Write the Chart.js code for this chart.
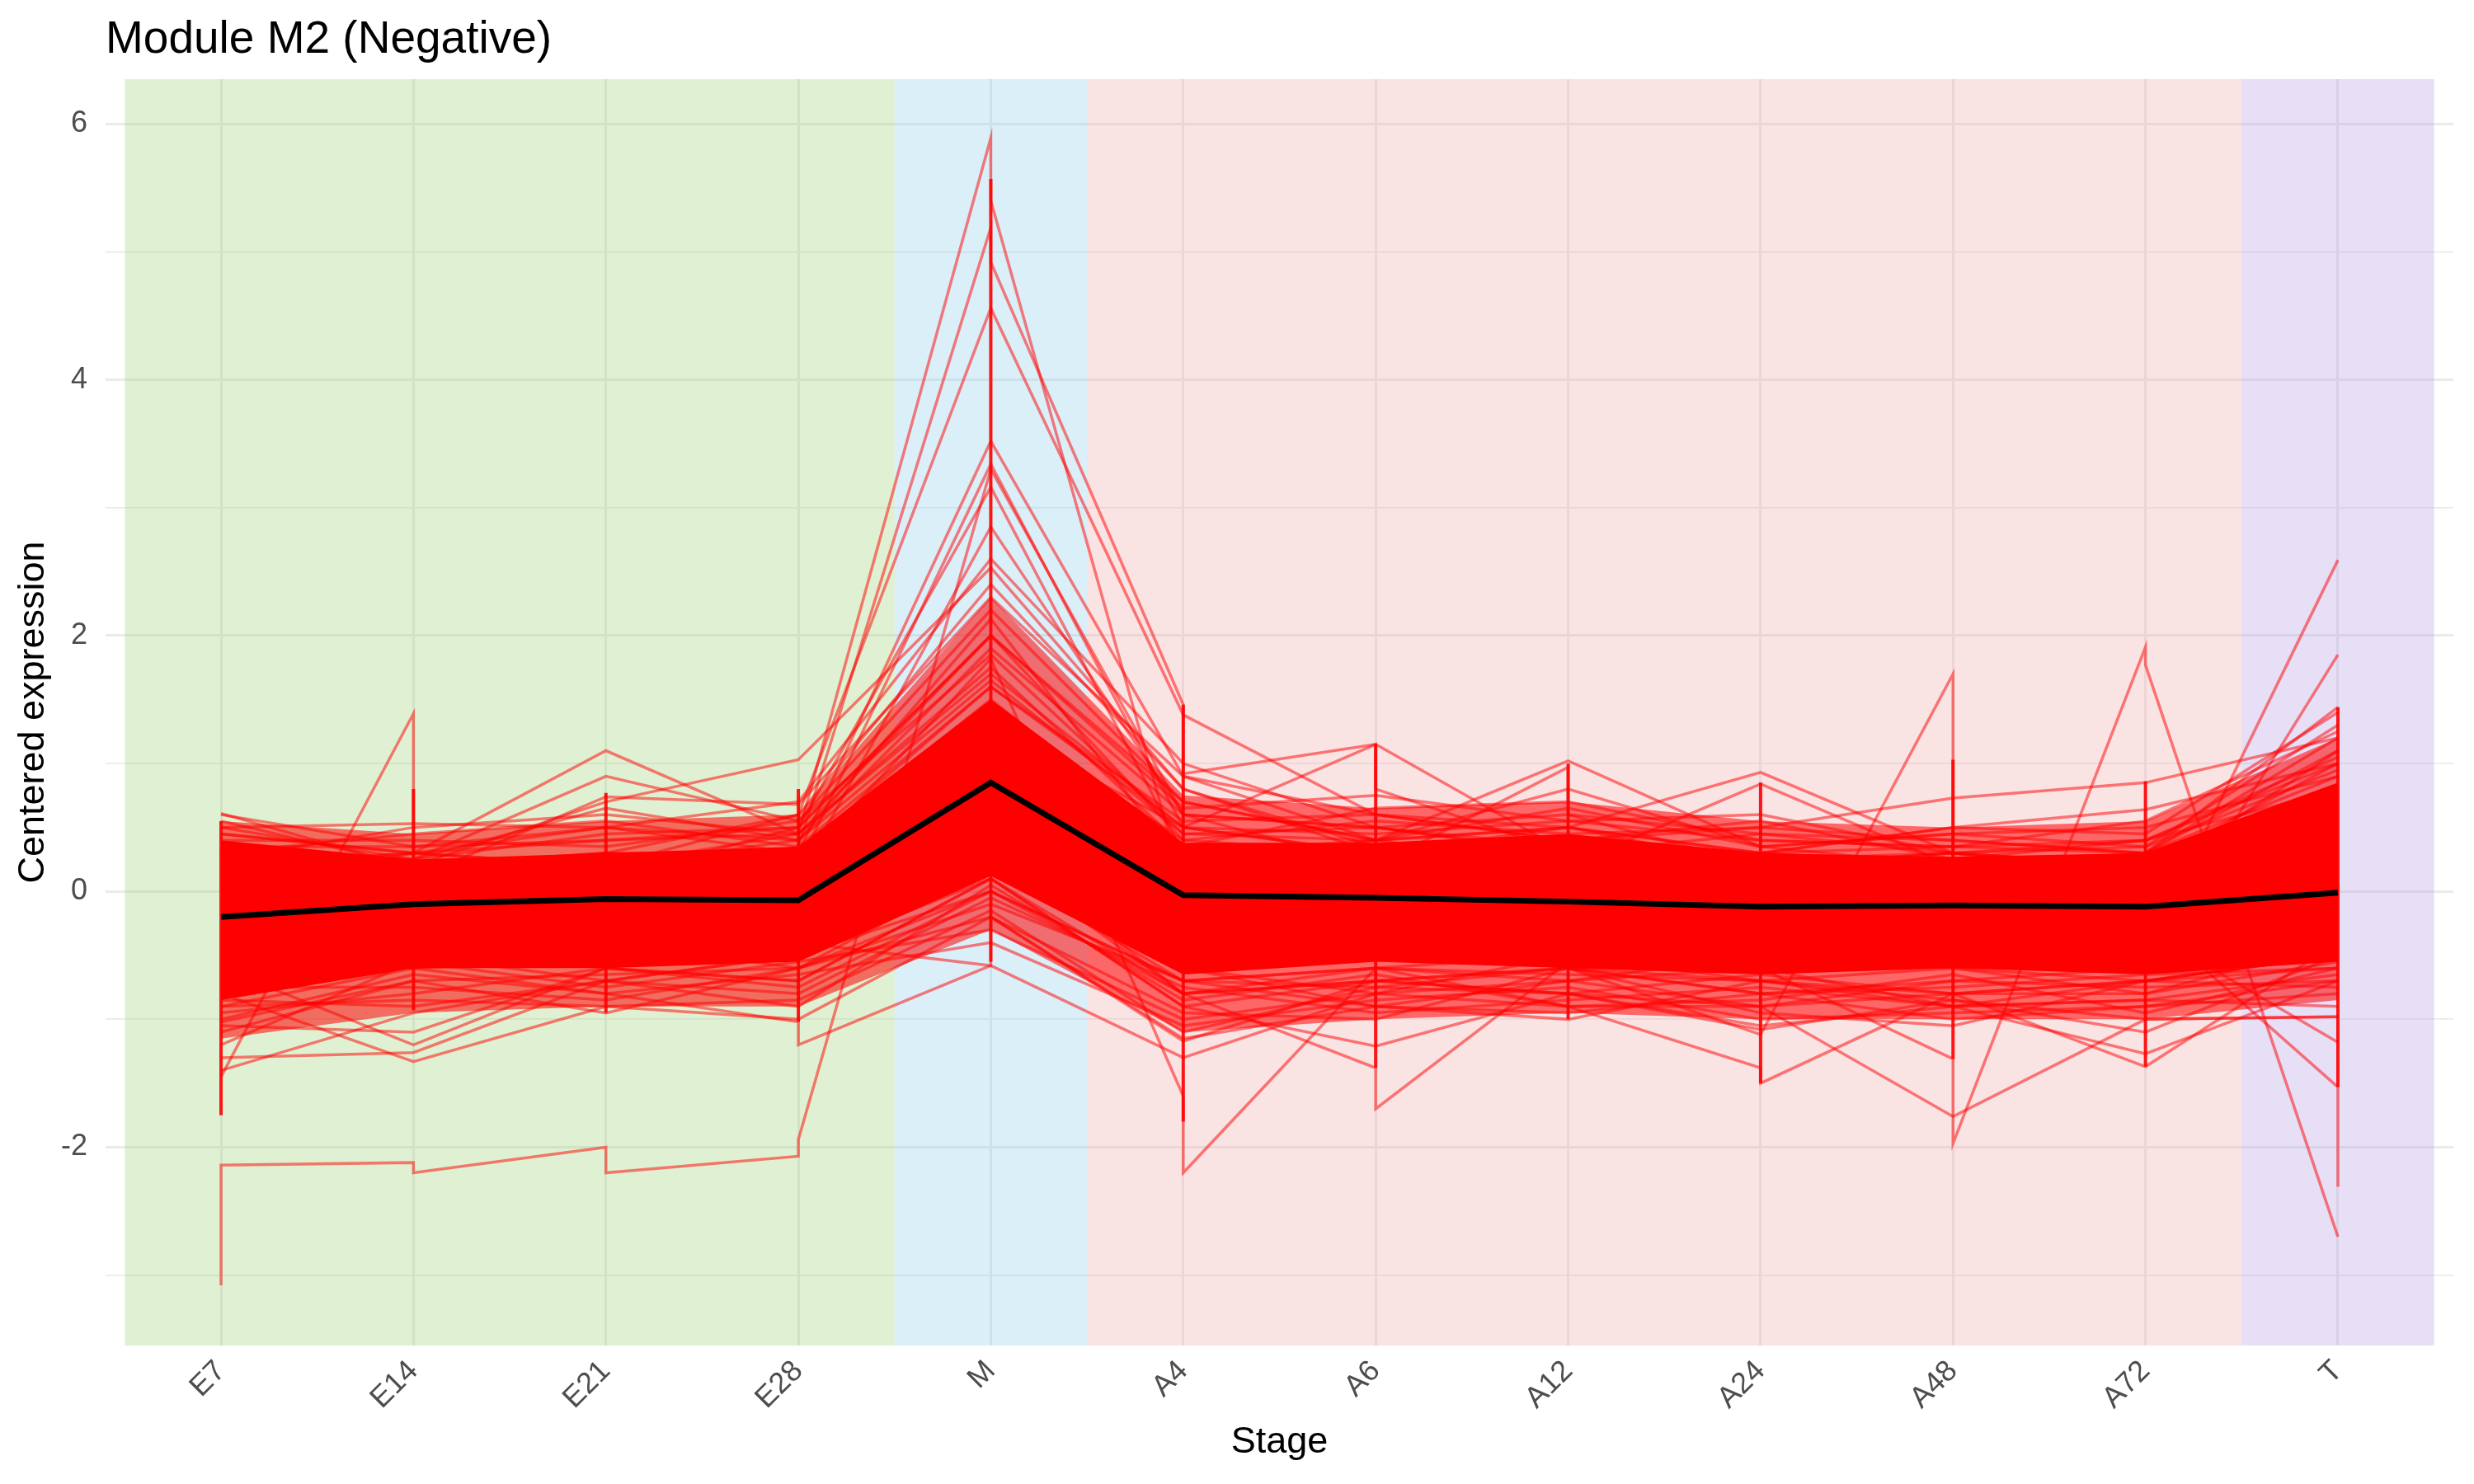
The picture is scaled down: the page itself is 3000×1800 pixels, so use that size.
<!DOCTYPE html>
<html>
<head>
<meta charset="utf-8">
<title>Module M2 (Negative)</title>
<script src="https://cdn.jsdelivr.net/npm/chart.js@4.4.0/dist/chart.umd.min.js"></script>
<style>
  html, body { margin: 0; padding: 0; background: #fff; }
  canvas { display: block; }
</style>
</head>
<body>
<canvas id="module-m2" width="3000" height="1800"></canvas>
<script>
// Stages (x axis) and y ticks
var stages = ['E7', 'E14', 'E21', 'E28', 'M', 'A4', 'A6', 'A12', 'A24', 'A48', 'A72', 'T'];
var yTicks = [-3, -2, -1, 0, 1, 2, 3, 4, 5, 6];

// Module mean (black line)
var meanExpr = [-0.2, -0.1, -0.06, -0.07, 0.85, -0.03, -0.05, -0.08, -0.12, -0.11, -0.12, -0.01];

// Dense core of the gene bundle
var coreLow  = [-0.85, -0.6, -0.6, -0.55, 0.12, -0.65, -0.55, -0.6, -0.65, -0.6, -0.65, -0.55];
var coreHigh = [0.4, 0.25, 0.3, 0.35, 1.5, 0.38, 0.38, 0.45, 0.3, 0.27, 0.3, 0.85];

// Looser fringe around the core
var fringeLow  = [-1.15, -0.95, -0.9, -0.9, -0.3, -1.1, -1.0, -0.95, -1.0, -1.0, -1.0, -0.85];
var fringeHigh = [0.55, 0.45, 0.55, 0.6, 2.3, 0.75, 0.65, 0.7, 0.55, 0.5, 0.55, 1.2];

// Replicate spread at each stage (vertical strokes)
var spreadLow  = [-1.75, -0.93, -0.95, -1.02, -0.55, -1.8, -1.38, -1.0, -1.5, -1.31, -1.37, -1.53];
var spreadHigh = [0.55, 0.8, 0.77, 0.8, 5.57, 1.46, 1.15, 1.0, 0.85, 1.03, 0.86, 1.44];

// Single genes; a pair is two replicates at the same stage
var genes = [
  [[-3.08, -2.14], [-2.12, -2.2], [-2.0, -2.2], [-2.07, -1.94], 3.3, 0.6, 0.2, 0.1, -0.2, -0.3, -0.2, 0.1],
  [-1.45, [1.39, 0.15], 0.0, 0.1, 0.9, 0.1, -0.2, 0.0, -0.2, -0.1, -0.3, 0.2],
  [0.61, 0.18, 0.3, 0.2, 1.2, 0.2, 0.1, 0.3, 0.0, 0.1, 0.0, 0.5],
  [0.5, 0.53, 0.5, 0.3, 1.6, 0.5, 0.3, 0.2, 0.1, 0.2, 0.3, 0.9],
  [0.2, 0.3, 1.1, 0.45, 2.0, 0.7, 0.4, 0.5, 0.2, 0.1, 0.2, 1.0],
  [0.1, 0.25, 0.9, 0.55, 1.85, 0.45, 0.5, 0.35, 0.25, 0.3, 0.2, 0.6],
  [0.3, 0.1, 0.74, 0.68, 2.3, 0.9, 0.6, 0.4, 0.3, 0.35, 0.3, 1.2],
  [0.0, 0.2, 0.7, 1.03, 2.53, 0.8, 0.3, 0.2, 0.1, 0.0, 0.1, 0.8],
  [-1.3, -1.26, -0.7, -0.5, 0.3, -0.8, -0.7, -0.6, -0.7, -0.9, -0.7, -0.5],
  [-1.02, -0.7, -0.95, -0.6, 0.2, -0.6, -0.9, -0.7, -0.5, -0.6, -0.8, -0.4],
  [-0.8, -1.33, -0.9, -1.0, -0.2, -1.15, -0.9, -0.95, -0.8, -1.0, -0.9, -0.7],
  [-0.6, -1.2, -0.6, -0.7, 0.1, -0.9, -1.21, -0.8, -1.08, -0.85, -1.0, -0.98],
  [-0.5, -0.6, -0.8, [-1.02, -1.2], -0.58, -1.3, -0.8, -0.9, -0.9, -0.8, -0.7, -0.6],
  [0.2, 0.1, 0.2, 0.45, [5.89, 5.4], 0.05, 0.2, 0.1, -0.1, 0.1, -0.1, 0.3],
  [0.0, 0.2, 0.1, 0.35, [5.19, 4.92], [1.46, 0.92], 1.15, 0.3, 0.2, 0.0, 0.1, 0.5],
  [0.3, 0.0, 0.2, 0.6, 4.56, 1.38, 0.6, 0.4, 0.2, 0.3, 0.1, 0.4],
  [0.1, 0.2, 0.3, 0.3, 3.52, 0.9, 0.4, 0.2, 0.1, 0.2, 0.0, 0.6],
  [0.2, 0.1, 0.0, 0.2, 3.34, 0.5, 0.3, 0.4, 0.1, 0.0, 0.2, 0.7],
  [-0.1, 0.2, 0.1, 0.5, 3.16, 0.3, 0.2, 0.1, 0.3, 0.2, 0.1, 0.3],
  [0.3, 0.1, 0.2, 0.1, 2.85, 0.6, 0.5, 0.3, 0.2, 0.1, 0.3, 0.8],
  [0.0, 0.3, 0.2, 0.4, 2.13, 0.2, 0.4, 0.5, 0.3, 0.2, 0.1, 1.1],
  [-0.3, -0.5, -0.4, -0.4, [-0.58, -0.2], -1.17, -0.7, -0.6, -0.8, -0.7, -0.6, -0.4],
  [0.3, 0.0, 0.2, 0.2, 1.82, [-1.6, -2.2], -0.6, -0.5, -0.6, -0.5, -0.6, -0.3],
  [-0.3, -0.2, -0.4, -0.3, 0.4, -0.8, [-1.38, -1.7], -0.55, -0.6, -0.5, -0.4, -0.2],
  [0.1, 0.0, 0.2, 0.1, 1.3, 0.5, [1.15, 0.8], 0.3, 0.2, 0.1, 0.2, 0.6],
  [0.2, 0.1, 0.0, 0.2, 1.1, 0.3, 0.4, 1.02, 0.35, 0.2, 0.1, 0.5],
  [0.0, -0.1, 0.1, 0.0, 0.9, 0.2, 0.2, [0.97, 0.6], 0.2, 0.3, 0.2, 0.4],
  [0.1, 0.2, 0.1, 0.3, 1.4, 0.4, 0.3, 0.5, 0.93, 0.3, 0.2, 0.7],
  [-0.1, 0.0, 0.2, 0.1, 1.0, 0.1, 0.2, 0.2, 0.84, 0.2, 0.1, 0.5],
  [-0.4, -0.5, -0.3, -0.5, 0.2, -0.7, -0.6, -0.9, [-1.38, -1.5], -0.8, -0.7, -0.5],
  [0.0, -0.2, -0.1, 0.0, 0.6, -0.5, -0.4, -0.6, -1.12, [1.7, 0.2], 0.1, 0.3],
  [-0.2, -0.3, -0.1, -0.2, 0.5, -0.4, -0.5, -0.3, -0.6, [-1.31, -1.97], [1.91, 1.77], -2.7],
  [0.0, 0.1, -0.1, 0.0, 0.7, -0.2, -0.1, -0.3, -0.2, -0.4, -0.49, 2.59],
  [-0.2, 0.0, 0.1, -0.1, 0.8, 0.0, -0.2, -0.1, -0.3, -0.3, -0.57, 1.85],
  [0.2, 0.3, 0.2, 0.3, 1.5, 0.3, 0.2, 0.4, 0.5, 0.73, 0.85, 1.2],
  [0.1, 0.0, 0.3, 0.2, 1.2, 0.2, 0.3, 0.1, 0.3, 0.5, 0.64, 1.0],
  [-0.6, -0.5, -0.7, -0.5, 0.1, -0.8, -0.7, -0.8, -0.9, -1.76, -1.0, -0.98],
  [-0.5, -0.6, -0.4, -0.6, 0.0, -0.7, -0.6, -0.7, -0.6, -0.9, -1.27, -0.7],
  [-0.4, -0.3, -0.5, -0.4, 0.2, -0.6, -0.8, -0.5, -0.7, -0.8, -1.37, -0.4],
  [-0.1, -0.2, 0.0, -0.1, 0.6, -0.3, -0.2, -0.4, -0.3, -0.2, -0.3, -1.18],
  [0.0, -0.1, -0.2, 0.0, 0.7, -0.1, -0.3, -0.2, -0.4, -0.3, -0.2, [-1.53, -2.31]],
  // upper edge of the bundle
  [0.45, 0.3, 0.4, 0.45, 1.7, 0.5, 0.45, 0.55, 0.4, 0.35, 0.4, 1.0],
  [0.35, 0.35, 0.5, 0.4, 1.9, 0.6, 0.5, 0.6, 0.45, 0.3, 0.35, 1.3],
  [0.5, 0.25, 0.45, 0.5, 2.0, 0.4, 0.55, 0.45, 0.5, 0.4, 0.3, 1.1],
  [0.4, 0.4, 0.35, 0.55, 2.2, 0.7, 0.4, 0.65, 0.35, 0.45, 0.5, 0.9],
  [0.3, 0.45, 0.55, 0.35, 1.6, 0.55, 0.6, 0.5, 0.3, 0.5, 0.45, 1.4],
  [0.55, 0.2, 0.3, 0.6, 2.4, 0.8, 0.35, 0.4, 0.55, 0.25, 0.4, 0.8],
  [0.25, 0.5, 0.6, 0.45, 1.75, 0.35, 0.65, 0.7, 0.4, 0.35, 0.55, 1.25],
  [0.45, 0.3, 0.5, 0.7, 2.6, 1.0, 0.5, 0.3, 0.45, 0.4, 0.3, 1.44],
  [0.6, 0.35, 0.4, 0.5, 2.0, 0.65, 0.75, 0.55, 0.6, 0.3, 0.4, 1.05],
  [0.35, 0.25, 0.65, 0.4, 1.65, 0.45, 0.4, 0.8, 0.35, 0.45, 0.35, 0.95],
  // lower edge of the bundle
  [-0.9, -0.6, -0.55, -0.5, 0.0, -0.8, -0.6, -0.65, -0.7, -0.6, -0.7, -0.5],
  [-1.1, -0.7, -0.65, -0.6, -0.1, -0.7, -0.75, -0.6, -0.8, -0.75, -0.65, -0.6],
  [-0.95, -0.8, -0.6, -0.7, 0.1, -0.9, -0.7, -0.8, -0.65, -0.8, -0.8, -0.55],
  [-1.2, -0.55, -0.75, -0.55, -0.3, -1.0, -0.8, -0.7, -0.9, -0.7, -0.75, -0.7],
  [-0.85, -0.9, -0.7, -0.8, -0.05, -0.75, -0.95, -0.85, -0.75, -0.9, -0.85, -0.65],
  [-1.0, -0.65, -0.8, -0.65, -0.4, -1.05, -0.85, -0.75, -1.0, -0.95, -0.9, -0.8],
  [-1.4, -0.95, -0.7, -0.9, 0.05, -0.85, -0.65, -0.9, -0.85, -0.65, -0.95, -0.6],
  [-0.75, -0.75, -0.85, -0.6, -0.2, -0.95, -1.0, -0.6, -0.95, -1.05, -0.7, -0.75],
  [-1.05, -1.1, -0.6, -0.75, 0.0, -0.7, -0.9, -1.0, -0.7, -0.85, -1.1, -0.5],
  [-0.9, -0.85, -0.9, -0.85, -0.15, -1.1, -0.75, -0.8, -1.05, -0.9, -0.85, -0.9]
];

// Background phases: first and last stage index of each span
var phaseSpans = [[0, 3], [4, 4], [5, 10], [11, 11]];
var phaseColors = [
  "rgba(152, 208, 108, 0.3)",
  "rgba(132, 202, 232, 0.3)",
  "rgba(235, 162, 162, 0.3)",
  "rgba(172, 148, 225, 0.3)"
];

// Colors
var geneColor = "rgba(255, 0, 0, 0.5)";
var coreColor = "rgba(255, 0, 0, 1)";
var fringeColor = "rgba(255, 0, 0, 0.55)";
var spreadColor = "rgba(255, 0, 0, 0.9)";
var gridColor = "#EBEBEB";
var textFont = "'Liberation Sans', Arial, Helvetica, sans-serif";

Chart.defaults.font.family = textFont;

function toPoints(values) {
  var pts = [];
  values.forEach(function (v, i) {
    if (Array.isArray(v)) {
      pts.push({ x: i, y: v[0] });
      pts.push({ x: i, y: v[1] });
    } else {
      pts.push({ x: i, y: v });
    }
  });
  return pts;
}

function spreadPoints() {
  var pts = [];
  stages.forEach(function (s, i) {
    pts.push({ x: i, y: spreadHigh[i] });
    pts.push({ x: i, y: spreadLow[i] });
    pts.push({ x: i, y: null });
  });
  return pts;
}

function band(values, fillTarget, color, order) {
  return {
    data: toPoints(values),
    borderWidth: 0,
    borderColor: "rgba(0,0,0,0)",
    backgroundColor: color,
    fill: fillTarget,
    pointRadius: 0,
    order: order
  };
}

var datasets = [
  band(fringeLow, false, fringeColor, 5),
  band(fringeHigh, 0, fringeColor, 5),
  band(coreLow, false, coreColor, 4),
  band(coreHigh, 2, coreColor, 4)
];

genes.forEach(function (g) {
  datasets.push({
    data: toPoints(g),
    borderColor: geneColor,
    borderWidth: 3.5,
    pointRadius: 0,
    fill: false,
    order: 3
  });
});

datasets.push({
  data: spreadPoints(),
  borderColor: spreadColor,
  borderWidth: 4,
  pointRadius: 0,
  fill: false,
  spanGaps: false,
  order: 2
});

datasets.push({
  data: toPoints(meanExpr),
  borderColor: "#000000",
  borderWidth: 7,
  pointRadius: 0,
  fill: false,
  order: 1
});

// Phase rectangles under the lines
var phasePlugin = {
  id: 'phases',
  beforeDatasetsDraw: function (chart) {
    var ctx = chart.ctx;
    var x = chart.scales.x;
    var area = chart.chartArea;
    ctx.save();
    phaseSpans.forEach(function (span, k) {
      var x0 = x.getPixelForValue(span[0] - 0.5);
      var x1 = x.getPixelForValue(span[1] + 0.5);
      ctx.fillStyle = phaseColors[k];
      ctx.fillRect(x0, area.top, x1 - x0, area.bottom - area.top);
    });
    ctx.restore();
  }
};

// Title aligned with the panel
var titlePlugin = {
  id: 'panelTitle',
  afterDraw: function (chart) {
    var ctx = chart.ctx;
    ctx.save();
    ctx.font = "55px " + textFont;
    ctx.fillStyle = "#000";
    ctx.textAlign = "left";
    ctx.textBaseline = "alphabetic";
    ctx.fillText("Module M2 (Negative)", chart.chartArea.left, 64);
    ctx.restore();
  }
};

var moduleChart = new Chart(document.getElementById('module-m2'), {
  type: 'line',
  data: { datasets: datasets },
  plugins: [phasePlugin, titlePlugin],
  options: {
    responsive: false,
    animation: false,
    devicePixelRatio: 1,
    events: [],
    layout: { padding: { left: 0, right: 25, top: 96, bottom: 0 } },
    plugins: {
      legend: { display: false },
      tooltip: { enabled: false }
    },
    elements: { line: { tension: 0, borderCapStyle: 'butt' } },
    scales: {
      x: {
        type: 'linear',
        min: -0.6,
        max: 11.6,
        afterBuildTicks: function (scale) {
          scale.ticks = stages.map(function (s, i) { return { value: i }; });
        },
        afterFit: function (scale) { scale.height = 168; },
        grid: { color: gridColor, lineWidth: 3, drawTicks: false },
        border: { display: false },
        ticks: {
          autoSkip: false,
          maxRotation: 45,
          minRotation: 45,
          padding: 10,
          color: "#4D4D4D",
          font: { size: 36 },
          callback: function (value) { return stages[value]; }
        },
        title: {
          display: true,
          text: 'Stage',
          color: "#000",
          font: { size: 45 },
          padding: { top: 0, bottom: 23 }
        }
      },
      y: {
        type: 'linear',
        min: -3.55,
        max: 6.35,
        afterBuildTicks: function (scale) {
          scale.ticks = yTicks.map(function (v) { return { value: v }; });
        },
        afterFit: function (scale) { scale.width = 128; },
        grid: {
          color: gridColor,
          drawTicks: false,
          lineWidth: function (ctx) {
            return ctx.tick && ctx.tick.value % 2 === 0 ? 3 : 1.8;
          }
        },
        border: { display: false },
        ticks: {
          padding: 22,
          color: "#4D4D4D",
          font: { size: 36 },
          callback: function (value) { return value % 2 === 0 ? String(value) : ''; }
        },
        title: {
          display: true,
          text: 'Centered expression',
          color: "#000",
          font: { size: 45 },
          padding: { top: 14, bottom: 0 }
        }
      }
    }
  }
});
</script>
</body>
</html>
